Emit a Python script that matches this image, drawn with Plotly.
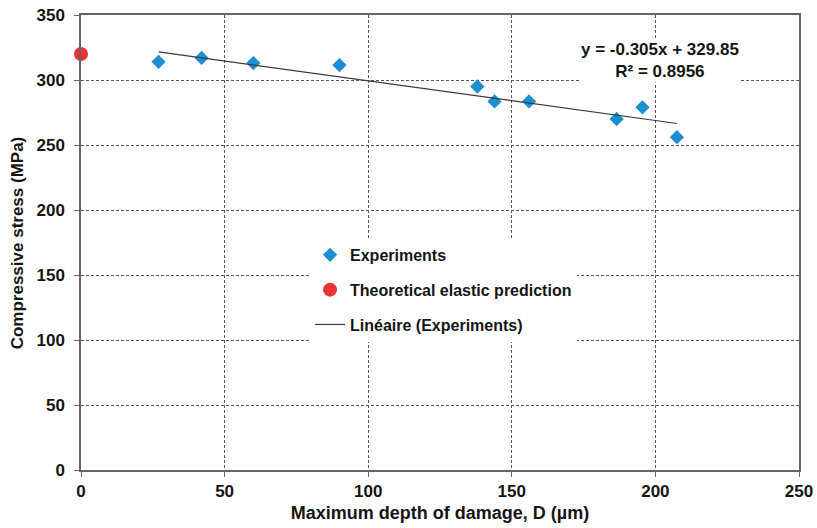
import plotly.graph_objects as go

# Data
exp_depth = [27, 42, 60, 90, 138, 144, 156, 186.5, 195.5, 207.5]
exp_stress = [314, 317, 313, 311.5, 295, 283.5, 283.5, 270, 279, 256]
theory_depth = [0]
theory_stress = [320]
fit_slope = -0.305
fit_intercept = 329.85
fit_r2 = 0.8956
x_ticks = [0, 50, 100, 150, 200, 250]
y_ticks = [0, 50, 100, 150, 200, 250, 300, 350]

fit_x = [min(exp_depth), max(exp_depth)]
fit_y = [fit_slope * v + fit_intercept for v in fit_x]

FONT = "Liberation Sans, Arial, sans-serif"
TXT = "#151515"

fig = go.Figure()
fig.add_trace(go.Scatter(x=exp_depth, y=exp_stress, mode="markers", name="Experiments",
                         legendgroup="a",
                         marker=dict(symbol="diamond", size=11, color="#1b8fd2")))
fig.add_trace(go.Scatter(x=theory_depth, y=theory_stress, mode="markers",
                         name="Theoretical elastic prediction", legendgroup="b",
                         marker=dict(symbol="circle", size=14, color="#ec3338"),
                         cliponaxis=False))
fig.add_trace(go.Scatter(x=fit_x, y=fit_y, mode="lines", name="Linéaire (Experiments)",
                         legendgroup="c",
                         line=dict(color="#3a3a3a", width=1.2)))

fig.add_annotation(x=0.806, y=0.90, xref="paper", yref="paper",
                   xanchor="center", yanchor="middle",
                   text=f"y = {fit_slope}x + {fit_intercept}<br>R² = {fit_r2}",
                   showarrow=False, bgcolor="white",
                   font=dict(family=FONT, size=17, color=TXT, weight="bold"),
                   align="center")

# y-axis title placed as a rotated annotation for precise positioning
fig.add_annotation(x=-0.088, y=0.5, xref="paper", yref="paper",
                   xanchor="center", yanchor="middle", textangle=-90,
                   text="Compressive stress (MPa)", showarrow=False,
                   font=dict(family=FONT, size=17, color=TXT, weight="bold"))

axis_common = dict(showgrid=True, gridcolor="#555", griddash="3px,2px", gridwidth=1,
                   showline=True, linecolor="#666", linewidth=1.5, mirror=True,
                   ticks="outside", ticklen=5, tickcolor="#666", zeroline=False,
                   automargin=False,
                   tickfont=dict(family=FONT, size=17, color=TXT, weight="bold"))

fig.update_xaxes(range=[0, 250], tickvals=x_ticks, **axis_common,
                 title=dict(text="Maximum depth of damage, D (µm)", standoff=6,
                            font=dict(family=FONT, size=18, color=TXT, weight="bold")))
fig.update_yaxes(range=[0, 350], tickvals=y_ticks, **axis_common,
                 ticklabelstandoff=6)

fig.update_layout(
    width=817, height=528,
    margin=dict(l=81, r=18, t=15, b=58),
    plot_bgcolor="white", paper_bgcolor="white",
    font=dict(family=FONT, color=TXT),
    showlegend=True,
    legend=dict(x=0.319, y=0.51, xanchor="left", yanchor="top",
                bgcolor="white", tracegroupgap=11,
                font=dict(family=FONT, size=16, color=TXT, weight="bold")),
)

fig.write_html("out.html", config={"displayModeBar": False},
               post_script="document.body.style.margin='0';document.body.style.overflow='hidden';")
